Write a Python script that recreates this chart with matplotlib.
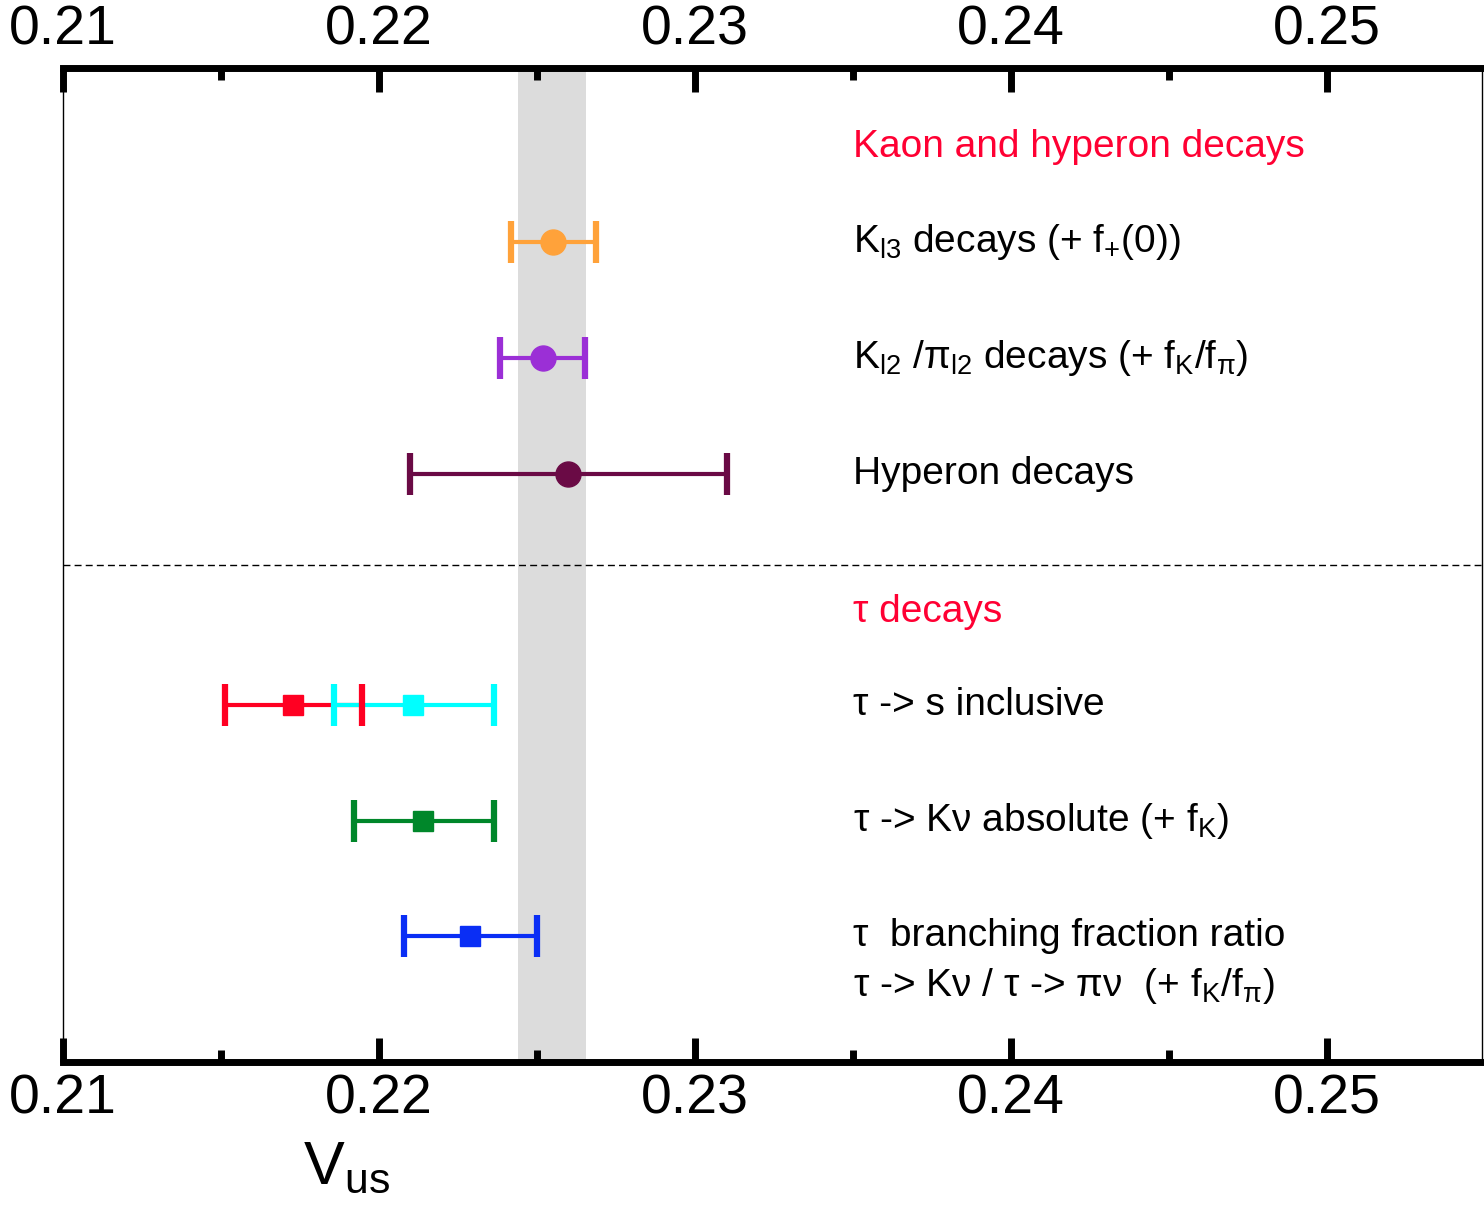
import matplotlib
matplotlib.use('Agg')
import matplotlib.pyplot as plt
from matplotlib.ticker import MultipleLocator

plt.rcParams['font.family'] = ['Liberation Sans', 'DejaVu Sans']
plt.rcParams['mathtext.fontset'] = 'custom'
plt.rcParams['mathtext.rm'] = 'Liberation Sans'
plt.rcParams['mathtext.it'] = 'Liberation Sans'
plt.rcParams['mathtext.default'] = 'regular'

# measurements of Vus (centre, lower end, upper end)
rows = [1, 2, 3, 5, 5, 6, 7]
centers = [0.22550, 0.22518, 0.22598, 0.21728, 0.22108, 0.22139, 0.22288]
lows = [0.22418, 0.22383, 0.22098, 0.21513, 0.21858, 0.21921, 0.22079]
highs = [0.22687, 0.22652, 0.23101, 0.21946, 0.22364, 0.22364, 0.22500]
colors = ['#ffa23a', '#9b2fd6', '#6a0a45', '#ff0022', '#00ffff', '#00872a', '#0a2ef5']
markers = ['o', 'o', 'o', 's', 's', 's', 's']

band_lo, band_hi = 0.22440, 0.22655

labels = [
    r'K$_{l3}$ decays (+ f$_{+}$(0))',
    r'K$_{l2}$ /π$_{l2}$ decays (+ f$_{K}$/f$_{π}$)',
    'Hyperon decays',
    'τ -> s inclusive',
    r'τ -> Kν absolute (+ f$_{K}$)',
    'τ  branching fraction ratio',
]
label_rows = [1, 2, 3, 5, 6, 7]
extra_label = r'τ -> Kν / τ -> πν  (+ f$_{K}$/f$_{π}$)'
headers = ['Kaon and hyperon decays', 'τ decays']
header_rows = [0.18, 4.2]

fig = plt.figure(figsize=(14.84, 12.15), dpi=100)
ax = fig.add_axes([63 / 1484, 153 / 1215, 1419 / 1484, 994 / 1215])

ax.axvspan(band_lo, band_hi, color='#dcdcdc', zorder=0, lw=0)
ax.axhline(3.79, color='black', lw=1.0, ls=(0, (5, 3)), zorder=1)

for i in range(len(rows)):
    c = centers[i]
    el = ax.errorbar(c, rows[i], xerr=[[c - lows[i]], [highs[i] - c]],
                     fmt=markers[i], color=colors[i],
                     ms=18 if markers[i] == 'o' else 14,
                     elinewidth=3, capsize=15, capthick=4.5, zorder=3 + i)
    if i == 3:
        for cl in el[1]:
            cl.set_zorder(20)

for r, t in zip(label_rows, labels):
    ax.text(0.2350, r, t, fontsize=28, va='center', ha='left')
ax.text(0.2350, 7.43, extra_label, fontsize=28, va='center', ha='left')
for r, t in zip(header_rows, headers):
    ax.text(0.2350, r, t, fontsize=28, va='center', ha='left', color='#ff0033')

ax.set_xlim(0.21, 0.2549)
ax.set_ylim(8.085, -0.506)
ax.set_yticks([])

ax.xaxis.set_major_locator(MultipleLocator(0.01))
ax.xaxis.set_minor_locator(MultipleLocator(0.005))
ax.set_xticks([0.21, 0.22, 0.23, 0.24, 0.25])
ax.set_xticklabels(['0.21', '0.22', '0.23', '0.24', '0.25'])
ax.tick_params(axis='x', which='both', direction='in', top=True, bottom=True,
               labeltop=True, labelbottom=True, labelsize=40, pad=8)
ax.tick_params(axis='x', which='major', length=17, width=5)
ax.tick_params(axis='x', which='minor', length=8.5, width=5)

ax.spines['top'].set_linewidth(5)
ax.spines['bottom'].set_linewidth(5)
ax.spines['left'].set_linewidth(1)
ax.spines['right'].set_linewidth(1)

ax.set_xlabel(r'V$_{us}$', fontsize=44)
ax.xaxis.set_label_coords(0.2, -0.078)
ax.xaxis.label.set_va('top')

fig.savefig('out.png', dpi=100)
